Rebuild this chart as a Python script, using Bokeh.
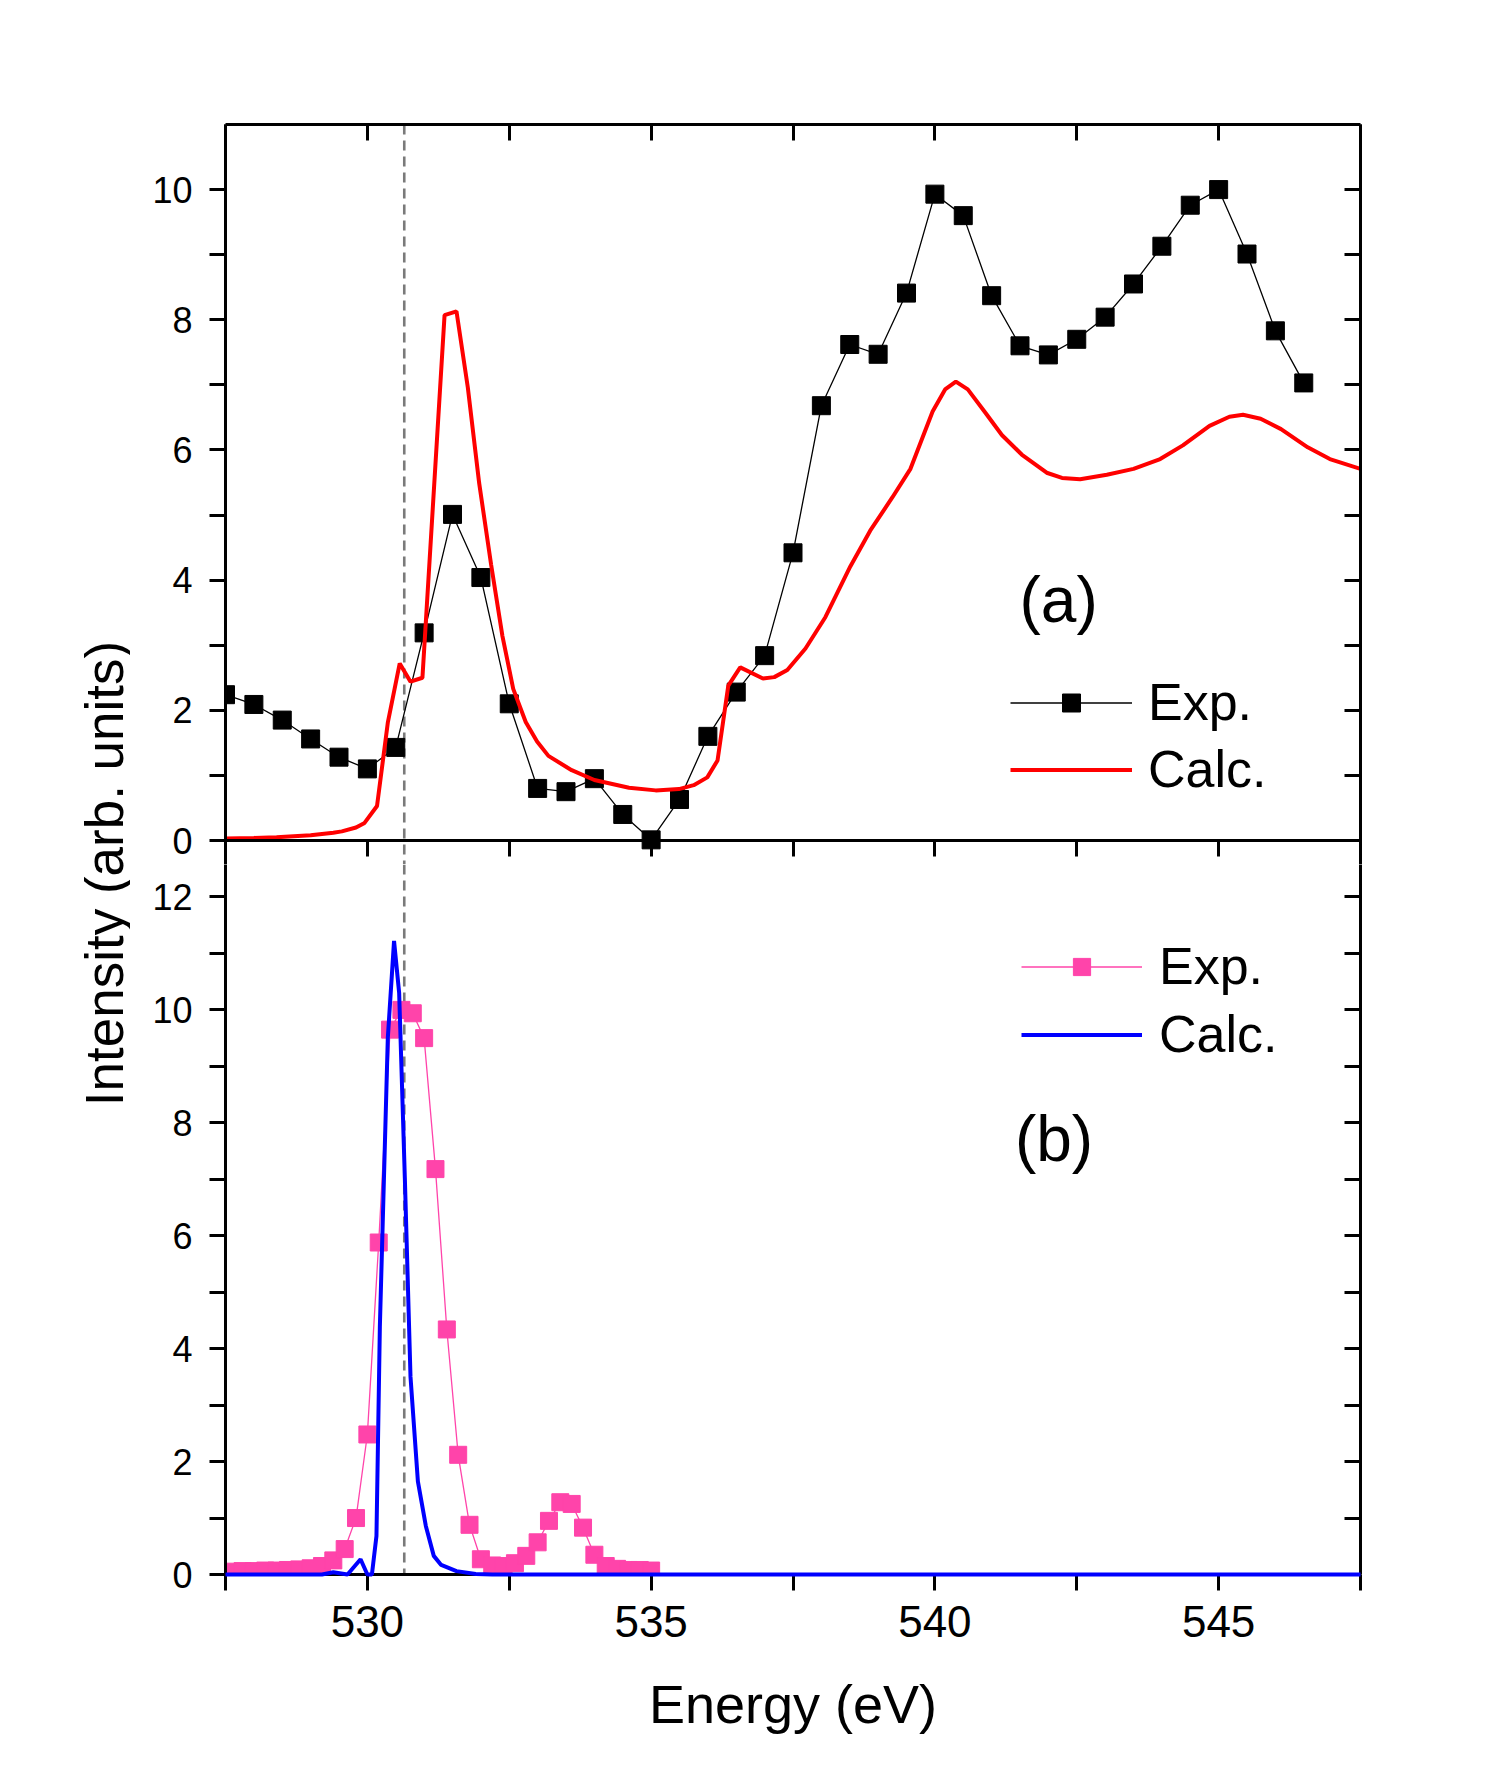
from bokeh.plotting import figure
from bokeh.models import (Range1d, LinearAxis, FixedTicker, Span, Label, Legend, LegendItem,
                          CustomLabelingPolicy)
from bokeh.layouts import row, column
from bokeh.embed import file_html
from bokeh.resources import INLINE

FONT = "Liberation Sans"

# ---------------- data ----------------
energy_exp_a = [527.5, 528.0, 528.5, 529.0, 529.5, 530.0, 530.5, 531.0, 531.5, 532.0,
                532.5, 533.0, 533.5, 534.0, 534.5, 535.0, 535.5, 536.0, 536.5, 537.0,
                537.5, 538.0, 538.5, 539.0, 539.5, 540.0, 540.5, 541.0, 541.5, 542.0,
                542.5, 543.0, 543.5, 544.0, 544.5, 545.0, 545.5, 546.0, 546.5]
intensity_exp_a = [2.24, 2.09, 1.85, 1.56, 1.28, 1.10, 1.43, 3.19, 5.01, 4.04,
                   2.10, 0.80, 0.75, 0.95, 0.40, 0.01, 0.63, 1.60, 2.28, 2.84,
                   4.42, 6.68, 7.62, 7.47, 8.41, 9.93, 9.60, 8.37, 7.60, 7.46,
                   7.70, 8.04, 8.55, 9.13, 9.76, 10.00, 9.01, 7.83, 7.03]

energy_calc_a = [527.5, 528.0, 528.4, 529.0, 529.4, 529.55, 529.8, 529.95, 530.17, 530.36,
                 530.57, 530.76, 530.97, 531.36, 531.57, 531.77, 531.97, 532.18, 532.38, 532.57,
                 532.79, 532.99, 533.19, 533.6, 534.0, 534.61, 535.08, 535.49, 535.75, 535.99,
                 536.17, 536.36, 536.57, 536.97, 537.17, 537.4, 537.72, 538.07, 538.51, 538.86,
                 539.25, 539.57, 539.96, 540.18, 540.37, 540.58, 540.9, 541.18, 541.53, 541.97,
                 542.24, 542.56, 543.03, 543.5, 543.97, 544.37, 544.84, 545.19, 545.43, 545.74,
                 546.1, 546.57, 546.96, 547.5]
intensity_calc_a = [0.03, 0.04, 0.05, 0.08, 0.12, 0.14, 0.20, 0.27, 0.53, 1.81,
                    2.72, 2.44, 2.50, 8.07, 8.13, 6.96, 5.49, 4.24, 3.14, 2.33,
                    1.82, 1.52, 1.30, 1.08, 0.93, 0.81, 0.77, 0.79, 0.85, 0.97,
                    1.23, 2.38, 2.66, 2.49, 2.51, 2.62, 2.95, 3.43, 4.21, 4.76,
                    5.27, 5.71, 6.59, 6.93, 7.05, 6.93, 6.56, 6.23, 5.93, 5.65,
                    5.57, 5.55, 5.62, 5.71, 5.86, 6.07, 6.37, 6.51, 6.54, 6.48,
                    6.32, 6.04, 5.86, 5.71]

energy_exp_b = [527.6, 527.8, 528.0, 528.2, 528.4, 528.6, 528.8, 529.0, 529.2, 529.4,
                529.6, 529.8, 530.0, 530.2, 530.4, 530.6, 530.8, 531.0, 531.2, 531.4,
                531.6, 531.8, 532.0, 532.2, 532.4, 532.6, 532.8, 533.0, 533.2, 533.4,
                533.6, 533.8, 534.0, 534.2, 534.4, 534.6, 534.8, 535.0]
intensity_exp_b = [0.05, 0.06, 0.06, 0.07, 0.07, 0.08, 0.09, 0.11, 0.15, 0.25,
                   0.45, 1.00, 2.48, 5.88, 9.65, 10.00, 9.94, 9.50, 7.18, 4.34,
                   2.12, 0.88, 0.27, 0.16, 0.15, 0.20, 0.33, 0.57, 0.95, 1.28,
                   1.25, 0.83, 0.35, 0.15, 0.10, 0.08, 0.08, 0.07]

energy_calc_b = [527.5, 529.2, 529.4, 529.65, 529.88, 530.0, 530.08, 530.16, 530.22, 530.36,
                 530.47, 530.56, 530.66, 530.76, 530.89, 531.03, 531.17, 531.3, 531.57, 531.91,
                 532.2, 547.5]
intensity_calc_b = [0.0, 0.0, 0.04, 0.0, 0.27, 0.0, 0.0, 0.68, 4.39, 9.50,
                    11.22, 10.30, 7.03, 3.50, 1.65, 0.86, 0.33, 0.17, 0.06, 0.01,
                    0.0, 0.0]

x_major_ticks = [530, 535, 540, 545]
x_minor_ticks = [527.5, 532.5, 537.5, 542.5, 547.5]
ya_major_ticks = [0, 2, 4, 6, 8, 10]
ya_minor_ticks = [1, 3, 5, 7, 9]
yb_major_ticks = [0, 2, 4, 6, 8, 10, 12]
yb_minor_ticks = [1, 3, 5, 7, 9, 11]
reference_energy = 530.65

# ---------------- layout constants ----------------
LEFT_LABEL_W = 130
BORDER_LEFT = 95
BORDER_RIGHT = 140
FRAME_W = 1135
TOP_PX_PER_UNIT = 716 / 11.0      # panel (a): 0..11 over 716 px
BOT_PX_PER_UNIT = 734 / 13.0      # panel (b): 0..13 over 734 px
OVERLAP = 24                      # panel (a) frame extends below its zero line
TICK = 16

x_range = Range1d(527.5, 547.5)
no_labels = CustomLabelingPolicy(code="for (const i of indices) { indices.unset(i) }\nreturn indices")


def style_axis(ax, ticker, tick_in, tick_out, labels=True, label_size="36px", standoff=17,
               line=True):
    ax.ticker = ticker
    ax.axis_line_width = 3
    ax.axis_line_color = "black" if line else None
    ax.major_tick_line_width = 3
    ax.minor_tick_line_width = 3
    ax.major_tick_line_color = "black"
    ax.minor_tick_line_color = "black"
    ax.major_tick_in = tick_in
    ax.major_tick_out = tick_out
    ax.minor_tick_in = tick_in
    ax.minor_tick_out = tick_out
    if labels:
        ax.major_label_text_font = FONT
        ax.major_label_text_font_size = label_size
        ax.major_label_text_color = "black"
        ax.major_label_standoff = standoff
    else:
        ax.major_label_text_font_size = "0px"
        ax.major_label_standoff = 0
        ax.major_label_policy = no_labels


def base_fig(frame_h, yr, top, bottom):
    p = figure(frame_width=FRAME_W, frame_height=frame_h, x_range=x_range, y_range=yr,
               output_backend="svg", toolbar_location=None,
               x_axis_location=None, y_axis_location=None,
               min_border_left=BORDER_LEFT, min_border_right=BORDER_RIGHT,
               min_border_top=top, min_border_bottom=bottom,
               outline_line_color=None, background_fill_color="white",
               border_fill_color="white")
    p.grid.visible = False
    return p


def make_legend(items, loc, gw, gh, standoff, spacing):
    return Legend(items=items, location=loc, glyph_width=gw, glyph_height=gh,
                  label_standoff=standoff, spacing=spacing, padding=0, margin=0,
                  border_line_color=None, background_fill_alpha=0,
                  label_text_font=FONT, label_text_font_size="52px",
                  label_text_color="black")


xt = FixedTicker(ticks=x_major_ticks, minor_ticks=x_minor_ticks)

# ---------------- top panel (a) ----------------
p1 = base_fig(716 + OVERLAP, Range1d(-OVERLAP / TOP_PX_PER_UNIT, 11), 124, 0)
yt_a = FixedTicker(ticks=ya_major_ticks, minor_ticks=ya_minor_ticks)

ax = LinearAxis(); style_axis(ax, xt, TICK, 0, labels=False); p1.add_layout(ax, "above")
# ticks hanging down from the zero line into panel (b)
ax = LinearAxis(); style_axis(ax, xt, OVERLAP, TICK - OVERLAP, labels=False, line=False)
p1.add_layout(ax, "below")
ax = LinearAxis(); style_axis(ax, yt_a, 0, TICK, labels=True); p1.add_layout(ax, "left")
ax = LinearAxis(); style_axis(ax, yt_a, TICK, 0, labels=False); p1.add_layout(ax, "right")

p1.add_layout(Span(location=reference_energy, dimension="height", line_color="#7a7a7a",
                   line_width=2.6, line_dash="10 6", level="underlay"))

ra1 = p1.line(energy_exp_a, intensity_exp_a, line_color="black", line_width=1.3)
ra2 = p1.scatter(energy_exp_a, intensity_exp_a, marker="square", size=18,
                 fill_color="black", line_color="black")
ra3 = p1.line(energy_calc_a, intensity_calc_a, line_color="#FF0000", line_width=4)

# boundary line between the two panels (zero line of panel a)
p1.add_layout(Span(location=0, dimension="width", line_color="black", line_width=3))

p1.add_layout(make_legend([LegendItem(label="Exp.", renderers=[ra1, ra2]),
                           LegendItem(label="Calc.", renderers=[ra3])],
                          (785, 41 + OVERLAP), 122, 45, 16, 7))
p1.add_layout(Label(x=542.18, y=3.7, text="(a)", text_font=FONT, text_font_size="64px",
                    text_color="black", text_align="center", text_baseline="middle"))

# ---------------- bottom panel (b) ----------------
p2 = base_fig(734 - OVERLAP, Range1d(0, 13 - OVERLAP / BOT_PX_PER_UNIT), 0, 199)
yt_b = FixedTicker(ticks=yb_major_ticks, minor_ticks=yb_minor_ticks)

ax = LinearAxis(); style_axis(ax, xt, 0, TICK, labels=True, label_size="44px", standoff=15)
ax.axis_label = "Energy (eV)"
ax.axis_label_text_font = FONT
ax.axis_label_text_font_size = "54px"
ax.axis_label_text_font_style = "normal"
ax.axis_label_text_color = "black"
ax.axis_label_standoff = 34
p2.add_layout(ax, "below")
ax = LinearAxis(); style_axis(ax, yt_b, 0, TICK, labels=True); p2.add_layout(ax, "left")
ax = LinearAxis(); style_axis(ax, yt_b, TICK, 0, labels=False); p2.add_layout(ax, "right")

p2.add_layout(Span(location=reference_energy, dimension="height", line_color="#7a7a7a",
                   line_width=2.6, line_dash="10 6", level="underlay"))

rb1 = p2.line(energy_exp_b, intensity_exp_b, line_color="#FF44AA", line_width=1.3)
rb2 = p2.scatter(energy_exp_b, intensity_exp_b, marker="square", size=17,
                 fill_color="#FF44AA", line_color="#FF44AA")
rb3 = p2.line(energy_calc_b, intensity_calc_b, line_color="#0000FF", line_width=4,
              level="overlay")

p2.add_layout(make_legend([LegendItem(label="Exp.", renderers=[rb1, rb2]),
                           LegendItem(label="Calc.", renderers=[rb3])],
                          (796, 510), 121, 43, 17, 8))
p2.add_layout(Label(x=542.1, y=7.72, text="(b)", text_font=FONT, text_font_size="64px",
                    text_color="black", text_align="center", text_baseline="middle"))

# ---------------- shared y-axis title ----------------
ylab = figure(width=LEFT_LABEL_W, height=1773, x_range=Range1d(0, LEFT_LABEL_W),
              y_range=Range1d(0, 1773), x_axis_location=None, y_axis_location=None,
              min_border=0, outline_line_color=None, toolbar_location=None,
              output_backend="svg", background_fill_color="white", border_fill_color="white")
ylab.grid.visible = False
ylab.add_layout(Label(x=104, y=900, text="Intensity (arb. units)", angle=90, angle_units="deg",
                      text_align="center", text_baseline="middle", text_font=FONT,
                      text_font_size="53px", text_color="black"))

layout = row(ylab, column(p1, p2, spacing=0), spacing=0)

with open("out.html", "w") as f:
    f.write(file_html(layout, INLINE))
